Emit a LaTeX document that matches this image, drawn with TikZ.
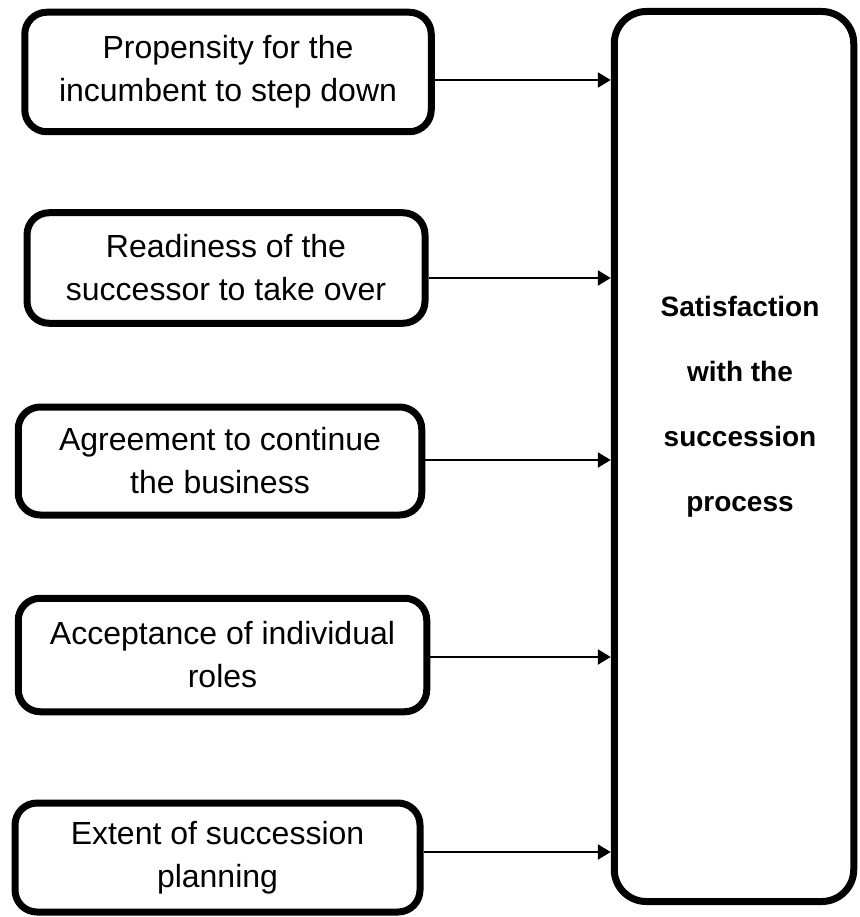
\documentclass[tikz,border=0pt]{standalone}
\usepackage{fontspec}
\setmainfont{Liberation Sans}
\usepackage{tikz}
\usetikzlibrary{positioning,arrows.meta}
\definecolor{ink}{HTML}{000000}
\tikzset{
  factor/.style={draw=ink,rounded corners=22pt,line width=7pt,align=center,inner sep=0pt,
                 font=\fontsize{32}{43}\selectfont},
  outbox/.style={draw=ink,rounded corners=32pt,line width=7pt,inner sep=0pt,
                 minimum width=239.5pt,minimum height=890pt},
  outlbl/.style={align=center,font=\fontsize{28}{65}\selectfont\bfseries},
  link/.style={-{Triangle[length=13pt,width=15pt]},line width=2.5pt,draw=ink},
}

\begin{document}
\begin{tikzpicture}[x=1pt,y=-1pt]
\useasboundingbox (0,0) rectangle (859,917);

% ---- factors (left column)
\node[factor,minimum width=406.5pt,minimum height=119.5pt] (f1) at (228,72) {Propensity for the\\incumbent to step down};
\node[factor,minimum width=398pt,minimum height=110.5pt] (f2) at (226,268) {Readiness of the\\successor to take over};
\node[factor,minimum width=403.5pt,minimum height=108pt] (f3) at (220,461) {Agreement to continue\\the business};
\node[factor,minimum width=408.5pt,minimum height=113.5pt] (f4) at (222.5,655) {Acceptance of individual\\roles};
\node[factor,minimum width=405pt,minimum height=109pt] (f5) at (217.5,857.5) {Extent of succession\\planning};

% ---- outcome (right column)
\node[outbox] (out) at (734,456.5) {};
\node[outlbl] (outtxt) at (740,407) {Satisfaction\\with the\\succession\\process};

% ---- links
\foreach \n/\y in {1/80,2/278,3/460,4/657,5/852}
  \draw[link] (f\n.east |- 0,\y) -- (out.west |- 0,\y);

\end{tikzpicture}
\end{document}
